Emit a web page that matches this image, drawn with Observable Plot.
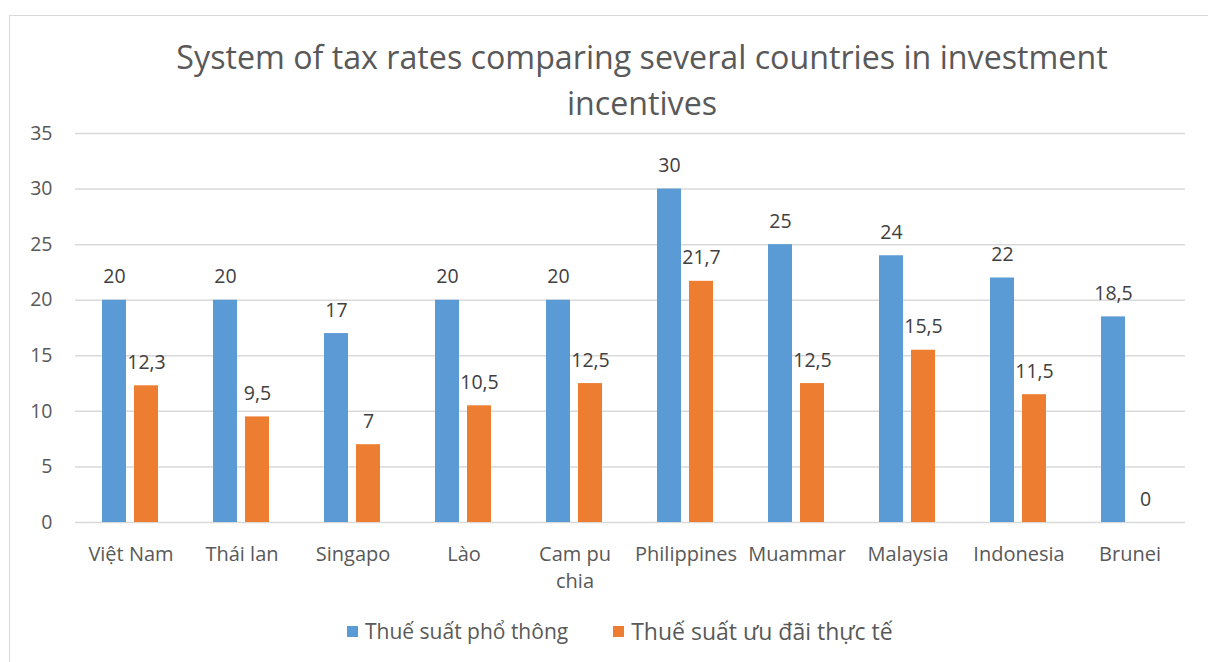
<!DOCTYPE html>
<html>
<head>
<meta charset="utf-8">
<script src="https://cdn.jsdelivr.net/npm/d3@7"></script>
<script src="https://cdn.jsdelivr.net/npm/@observablehq/plot@0.6"></script>
<style>
  html, body { margin: 0; padding: 0; background: #fff; overflow: hidden; }
  #wrap { position: relative; width: 1208px; height: 662px; font-family: "Open Sans", sans-serif; color: #595959; }
  #frame { position: absolute; left: 9px; top: 15px; right: -5px; bottom: -5px; border: 1.5px solid #d9d9d9; pointer-events: none; }
  #title { height: 120px; box-sizing: border-box; padding-top: 34px; padding-left: 76px; text-align: center; font-size: 32.2px; line-height: 46px; color: #595959; }
  #legend { height: 62px; display: flex; align-items: center; padding-left: 347px; box-sizing: border-box; }
  .item { display: flex; align-items: center; }
  .sw { width: 11px; height: 11px; margin-right: 7px; }
  svg { display: block; }
</style>
</head>
<body>
<div id="wrap">
  <div id="frame"></div>
  <div id="title">System of tax rates comparing several countries in investment<br>incentives</div>
  <div id="chart"></div>
  <div id="legend"></div>
</div>
<script>
const countries = ["Việt Nam", "Thái lan", "Singapo", "Lào", "Cam pu chia", "Philippines", "Muammar", "Malaysia", "Indonesia", "Brunei"];
const seriesNames = ["Thuế suất phổ thông", "Thuế suất ưu đãi thực tế"];
const generalRate = [20, 20, 17, 20, 20, 30, 25, 24, 22, 18.5];
const incentiveRate = [12.3, 9.5, 7, 10.5, 12.5, 21.7, 12.5, 15.5, 11.5, 0];
const yTicks = [0, 5, 10, 15, 20, 25, 30, 35];
const colors = ["#5B9BD5", "#ED7D31"];

const data = countries.flatMap((c, i) => [
  {country: c, series: seriesNames[0], value: generalRate[i]},
  {country: c, series: seriesNames[1], value: incentiveRate[i]}
]);
const fmt = v => String(v).replace(".", ",");
const font = '"Open Sans", sans-serif';

const chart = Plot.plot({
  width: 1208,
  height: 480,
  marginLeft: 71,
  marginRight: 19,
  marginTop: 13,
  marginBottom: 78,
  style: {fontFamily: font, fontSize: "19.5px", color: "#595959", background: "transparent"},
  fx: {domain: countries, padding: 0, label: null},
  x: {domain: seriesNames, paddingInner: 0.24, paddingOuter: 0.815, axis: null},
  y: {domain: [0, 35], label: null},
  color: {domain: seriesNames, range: colors},
  marks: [
    Plot.gridY(yTicks, {stroke: "#d9d9d9", strokeOpacity: 1, strokeWidth: 1.5}),
    Plot.axisY(yTicks, {tickSize: 0, tickPadding: 23, label: null, fill: "#595959", fontSize: 19.5}),
    Plot.axisFx({anchor: "bottom", tickSize: 0, tickPadding: 19, label: null, fill: "#595959", fontSize: 20, lineHeight: 1.35,
      tickFormat: d => d === "Cam pu chia" ? "Cam pu\nchia" : d}),
    Plot.barY(data, {fx: "country", x: "series", y: "value", fill: "series"}),
    Plot.text(data, {fx: "country", x: "series", y: "value", text: d => fmt(d.value), lineAnchor: "bottom", dy: -17, fill: "#404040", fontSize: 19.5})
  ]
});
document.getElementById("chart").appendChild(chart);

const legend = document.getElementById("legend");
seriesNames.forEach((s, i) => {
  const item = document.createElement("div");
  item.className = "item";
  if (i === 1) item.style.marginLeft = "45px";
  const sw = document.createElement("div");
  sw.className = "sw";
  sw.style.background = colors[i];
  const t = document.createElement("span");
  t.textContent = s;
  t.style.fontSize = i === 0 ? "21px" : "23px";
  item.appendChild(sw);
  item.appendChild(t);
  legend.appendChild(item);
});
</script>
</body>
</html>
